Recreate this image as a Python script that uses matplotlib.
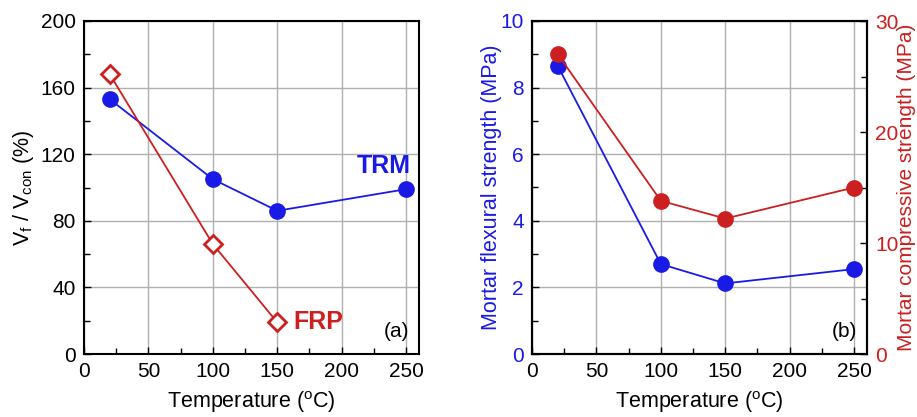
import matplotlib
matplotlib.use("Agg")
import matplotlib.pyplot as plt
from matplotlib.ticker import MultipleLocator

plt.rcParams['font.family'] = ['Liberation Sans', 'DejaVu Sans']

temps_trm = [20, 100, 150, 250]
trm_ratio = [153, 105, 86, 99]
temps_frp = [20, 100, 150]
frp_ratio = [168, 66, 19]

temps_mortar = [20, 100, 150, 250]
flexural = [8.65, 2.7, 2.12, 2.55]
compressive = [27.0, 13.8, 12.2, 15.0]

BLUE = '#1a1ae6'
RED = '#cc1f1f'
TICK_FS = 15
LABEL_FS = 15.5

fig = plt.figure(figsize=(9.17, 4.17), dpi=100)
ax1 = fig.add_axes([84/917, 1-354/417, (419-84)/917, (354-21)/417])
ax2 = fig.add_axes([532/917, 1-354/417, (867-532)/917, (354-21)/417])

def style(ax, ymax, ymaj, ymin):
    ax.set_xlim(0, 260)
    ax.set_ylim(0, ymax)
    ax.xaxis.set_major_locator(MultipleLocator(50))
    ax.xaxis.set_minor_locator(MultipleLocator(25))
    ax.yaxis.set_major_locator(MultipleLocator(ymaj))
    ax.yaxis.set_minor_locator(MultipleLocator(ymin))
    ax.grid(True, which='major', color='#b0b0b0', linewidth=1)
    ax.set_axisbelow(True)
    ax.tick_params(which='both', direction='in', labelsize=TICK_FS, top=False, right=False)
    ax.tick_params(which='major', length=5, width=1, pad=6)
    ax.tick_params(which='minor', length=4, width=1)
    for s in ax.spines.values():
        s.set_linewidth(1.5)
    ax.set_xlabel('Temperature ($\\mathregular{^o}$C)', fontsize=LABEL_FS, labelpad=6)

style(ax1, 200, 40, 20)
ax1.plot(temps_trm, trm_ratio, '-o', color=BLUE, markersize=11, linewidth=1.3, zorder=3)
ax1.plot(temps_frp, frp_ratio, '-D', color=RED, markerfacecolor='white', markeredgecolor=RED,
         markeredgewidth=2, markersize=9, linewidth=1.3, zorder=3)
ax1.set_ylabel('V$\\mathregular{_f}$ / V$\\mathregular{_{con}}$ (%)', fontsize=LABEL_FS, labelpad=3)
ax1.text(233, 113, 'TRM', color=BLUE, fontsize=18, fontweight='bold', ha='center', va='center')
ax1.text(182, 19, 'FRP', color=RED, fontsize=18, fontweight='bold', ha='center', va='center')
ax1.text(0.97, 0.04, '(a)', transform=ax1.transAxes, fontsize=TICK_FS, ha='right', va='bottom')

style(ax2, 10, 2, 1)
ax2.plot(temps_mortar, flexural, '-o', color=BLUE, markersize=11, linewidth=1.3, zorder=3)
ax2.set_ylabel('Mortar flexural strength (MPa)', fontsize=LABEL_FS, color=BLUE, labelpad=-1)
ax2.tick_params(axis='y', labelcolor=BLUE)
ax2.text(0.97, 0.04, '(b)', transform=ax2.transAxes, fontsize=TICK_FS, ha='right', va='bottom')

ax3 = ax2.twinx()
ax3.set_ylim(0, 30)
ax3.yaxis.set_major_locator(MultipleLocator(10))
ax3.yaxis.set_minor_locator(MultipleLocator(5))
ax3.tick_params(which='both', direction='in', labelsize=TICK_FS, labelcolor=RED)
ax3.tick_params(which='major', length=5, width=1, pad=6)
ax3.tick_params(which='minor', length=4, width=1)
for s in ax3.spines.values():
    s.set_linewidth(1.5)
ax3.plot(temps_mortar, compressive, '-o', color=RED, markersize=11, linewidth=1.3, zorder=3)
ax3.set_ylabel('Mortar compressive strength (MPa)', fontsize=15, color=RED, labelpad=-1)

fig.savefig('out.png', dpi=100)
